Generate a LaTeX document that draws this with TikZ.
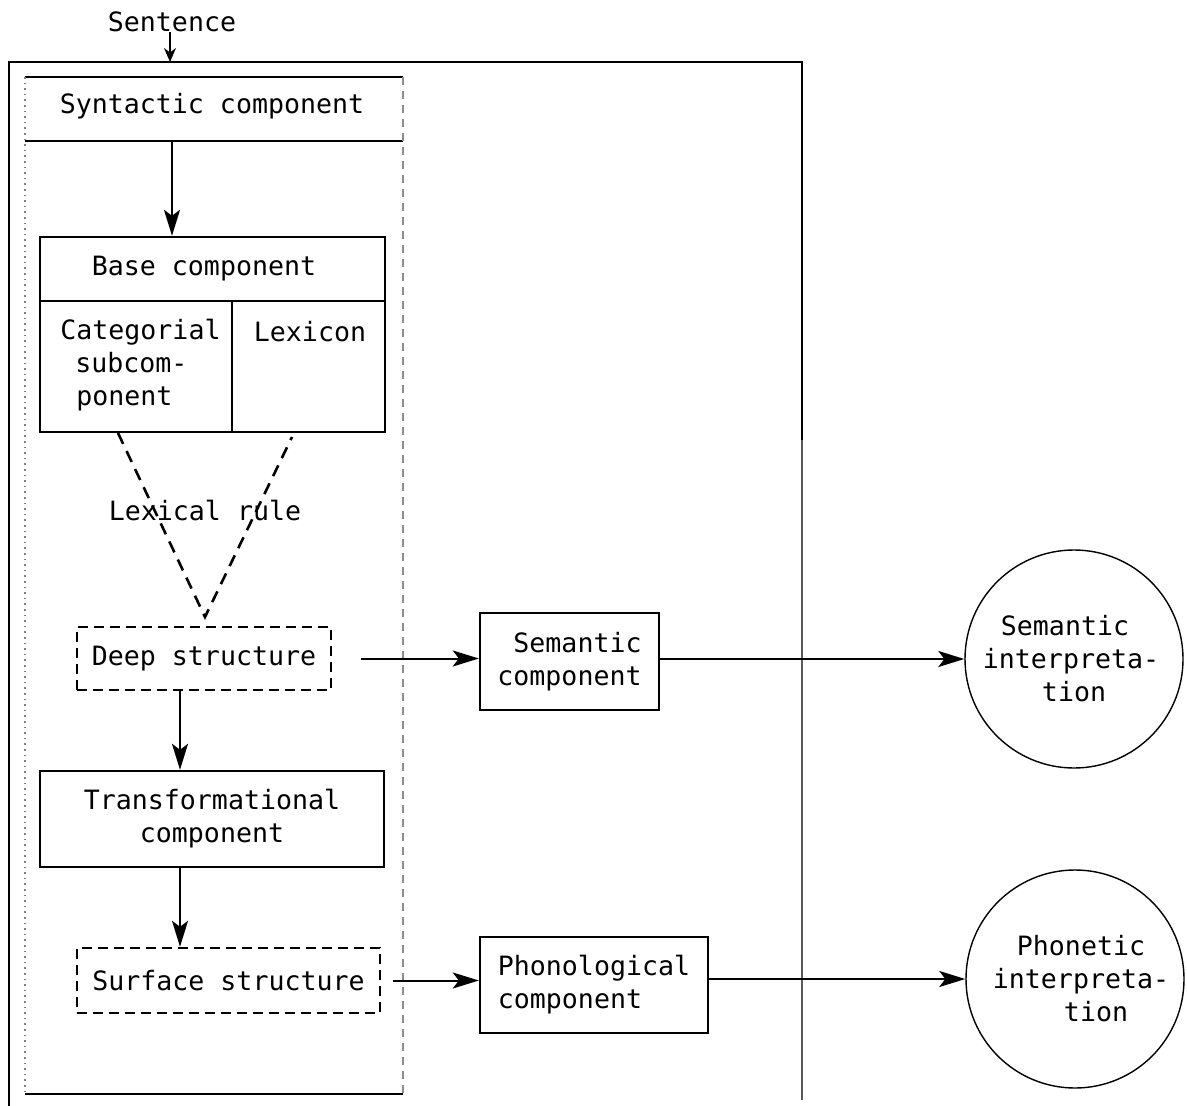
\documentclass[tikz,border=0pt]{standalone}
\usepackage{fontspec}
\setmonofont{DejaVu Sans Mono}
\usetikzlibrary{arrows.meta}
\begin{document}
\begin{tikzpicture}[x=0.5pt,y=-0.5pt,
  txt/.style={font=\ttfamily\fontsize{13.3}{16.5}\selectfont, inner sep=0pt},
  box/.style={draw, line width=1.2pt, inner sep=0pt, txt},
  dbox/.style={draw, line width=1.2pt, dash pattern=on 5pt off 3pt, inner sep=0pt, txt},
  circ/.style={circle, draw, line width=0.7pt, inner sep=0pt, minimum size=109pt, txt, align=center},
  arr/.style={line width=1pt, -{Stealth[length=13pt,width=8pt,inset=3pt]}},
  frame/.style={line width=1.2pt},
  faint/.style={line width=0.7pt, black!45, dash pattern=on 4pt off 3pt},
  vdash/.style={line width=1.3pt, dash pattern=on 6pt off 4pt},
]
\useasboundingbox (0,0) rectangle (1187,1106);

% outer frame
\coordinate (oTL) at (9,62);
\coordinate (oTR) at (802,62);
\coordinate (oBL) at (9,1106);
\coordinate (oMR) at (802,440);
\coordinate (oBR) at (802,1100);
\draw[frame] (oBL) -- (oTL) -- (oTR) -- (oMR);
\draw[line width=0.9pt, black!65] (oMR) -- (oBR);

% syntactic component frame
\coordinate (sTL) at (25,77);
\coordinate (sTR) at (403,77);
\coordinate (sML) at (25,141);
\coordinate (sMR) at (403,141);
\coordinate (sBL) at (25,1094);
\coordinate (sBR) at (403,1094);
\draw[frame] (sTL) -- (sTR);
\draw[frame] (sML) -- (sMR);
\draw[frame] (sBL) -- (sBR);
\draw[line width=0.8pt, black!50, dotted] (sTL) -- (sBL);
\draw[faint] (sTR) -- (sBR);

% texts
\node[txt] (sent) at (172,22) {Sentence};
\coordinate (sentin) at (170,62);
\draw[line width=0.8pt, -{Stealth[length=7pt,width=6pt]}] (sent.south -| sentin) -- (sentin);

\node[txt] (synt) at (212,106) {Syntactic component};

% base component
\node[box, minimum width=172.5pt, minimum height=97.5pt] (base) at (212.5,334.5) {};
\coordinate (bsep) at (0,301);
\draw[line width=1pt] (base.west |- bsep) -- (base.east |- bsep);
\coordinate (bdiv) at (232,301);
\draw[line width=0.8pt] (bdiv) -- (bdiv |- base.south);
\node[txt] (basel) at (204,269) {Base component};
\node[txt, anchor=west, align=left] (cat) at (60,365) {Categorial\\\hspace*{7.5pt}subcom-\\\hspace*{8pt}ponent};
\node[txt] (lex) at (310,332) {Lexicon};

\coordinate (sbot) at (172,141);
\draw[arr] (sbot) -- (sbot |- base.north);

% lexical rule
\node[txt] (lexrule) at (205,511) {Lexical rule};
\coordinate (vl) at (118,433);
\coordinate (vr) at (292,437);
\coordinate (apex) at (205,617);
\draw[vdash] (vl) -- (apex) -- (vr);

% left column
\node[dbox, minimum width=127pt, minimum height=31.5pt] (deep) at (204,658.5) {Deep structure};
\node[box, minimum width=172pt, minimum height=48pt, align=center] (trans) at (212,819) {Transformational\\component};
\node[dbox, minimum width=151.5pt, minimum height=32.5pt] (surf) at (228.5,980.5) {Surface structure};

\coordinate (vx) at (180,0);
\draw[arr] (deep.south -| vx) -- (trans.north -| vx);
\draw[arr] (trans.south -| vx) -- (surf.north -| vx);

% right parts
\node[box, minimum width=89.5pt, minimum height=48.5pt, align=right] (sem) at (569.5,661.5) {Semantic\\component};
\node[box, minimum width=114pt, minimum height=48pt, align=left] (phon) at (594,985) {Phonological\\component};
\node[circ] (semint) at (1074,659) {\hspace*{-9pt}Semantic\\\hspace*{-3pt}interpreta-\\tion};
\node[circ] (phonint) at (1075,979) {\hspace*{6pt}Phonetic\\\hspace*{6pt}interpreta-\\\hspace*{21pt}tion};

\draw[arr] ([xshift=14.5pt]deep.east) -- (sem.west |- deep.east);
\draw[arr] (sem.east |- semint.west) -- (semint.west);
\draw[arr] ([xshift=6pt]surf.east) -- (phon.west |- surf.east);
\draw[arr] (phon.east |- phonint.west) -- (phonint.west);
\end{tikzpicture}
\end{document}
